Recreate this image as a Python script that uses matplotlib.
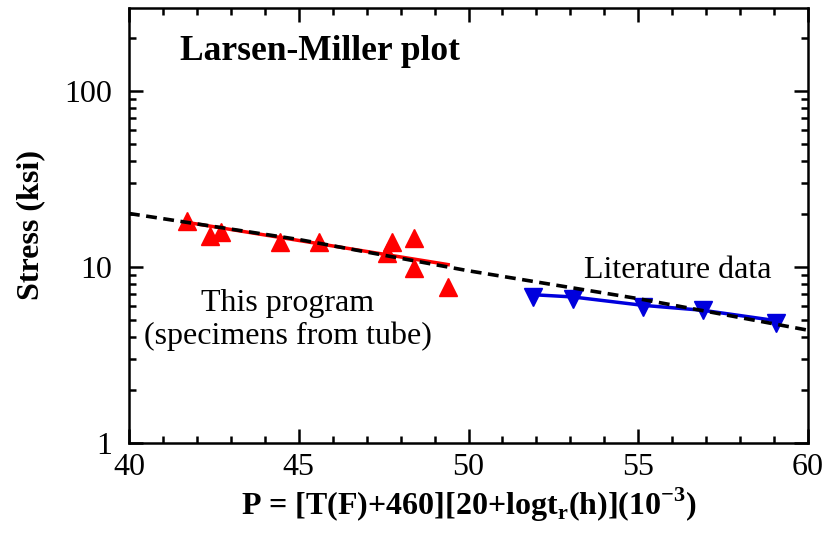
import matplotlib
matplotlib.use("Agg")
import matplotlib.pyplot as plt
from matplotlib.ticker import MultipleLocator, LogLocator, NullFormatter, FixedLocator, FixedFormatter

# This program (specimens from tube)
prog_P = [41.7, 42.4, 42.7, 44.45, 45.6, 47.6, 47.75, 48.4, 48.4, 49.4]
prog_S = [18.3, 14.9, 15.7, 13.9, 13.8, 12.0, 13.8, 14.5, 9.8, 7.65]
prog_fit_P = [41.7, 49.4]
prog_fit_S = [17.9, 10.3]

# Literature data
lit_P = [51.9, 53.07, 55.13, 56.9, 59.06]
lit_S = [6.72, 6.6, 5.9, 5.67, 4.79]
lit_fit_P = [51.9, 53.07, 55.13, 56.9, 59.06]
lit_fit_S = [6.95, 6.75, 6.05, 5.67, 4.95]

# Overall Larsen-Miller curve
lm_P = [40, 45, 50, 55, 60]
lm_S = [20.1, 14.3, 9.5, 6.6, 4.37]

plt.rcParams['font.family'] = ['Liberation Serif', 'DejaVu Serif']
plt.rcParams['mathtext.fontset'] = 'custom'
plt.rcParams['mathtext.rm'] = 'Liberation Serif'
plt.rcParams['mathtext.bf'] = 'Liberation Serif:bold'

fig = plt.figure(figsize=(8.25, 5.33), dpi=100)
ax = fig.add_axes([129/825, 1-443/533, (808-129)/825, (443-8)/533])

ax.plot(lm_P, lm_S, color='black', ls=(0, (3, 1.8)), lw=2.6, zorder=4)
ax.plot(prog_fit_P, prog_fit_S, color='#ff0000', lw=2.5, zorder=2)
ax.plot(prog_P, prog_S, ls='none', marker='^', ms=13, color='#ff0000', mec='#ff0000', zorder=3)
ax.plot(lit_fit_P, lit_fit_S, color='#0000dd', lw=2.5, zorder=2)
ax.plot(lit_P, lit_S, ls='none', marker='v', ms=13, color='#0000dd', mec='#0000dd', zorder=3)

ax.set_yscale('log')
ax.set_xlim(40, 60)
ax.set_ylim(1, 295)
ax.xaxis.set_major_locator(MultipleLocator(5))
ax.xaxis.set_minor_locator(MultipleLocator(1))
ax.yaxis.set_major_locator(FixedLocator([1, 10, 100]))
ax.yaxis.set_major_formatter(FixedFormatter(['1', '10', '100']))
ax.yaxis.set_minor_locator(LogLocator(base=10, subs=range(2, 10)))
ax.yaxis.set_minor_formatter(NullFormatter())

ax.tick_params(which='both', direction='in', top=True, right=True, width=1.8, labelsize=23)
ax.tick_params(axis='x', which='both', pad=7)
ax.tick_params(axis='y', which='both', pad=12)
ax.tick_params(which='major', length=10)
ax.tick_params(which='minor', length=5)
for s in ax.spines.values():
    s.set_linewidth(1.8)

ax.set_ylabel('Stress (ksi)', fontsize=23, fontweight='bold', labelpad=14)
ax.set_xlabel(r'P = [T(F)+460][20+logt$_{\mathbf{r}}$(h)](10$^{\mathbf{-3}}$)', fontsize=23, fontweight='bold', labelpad=3)

ax.text(180/825, 1-52/533, 'Larsen-Miller plot', transform=fig.transFigure, fontsize=25.5, fontweight='bold', ha='left', va='center')
ax.text(288/825, 1-303/533, 'This program', transform=fig.transFigure, fontsize=23, ha='center', va='center')
ax.text(288/825, 1-336/533, '(specimens from tube)', transform=fig.transFigure, fontsize=23, ha='center', va='center')
ax.text(678/825, 1-271/533, 'Literature data', transform=fig.transFigure, fontsize=23, ha='center', va='center')

fig.savefig('out.png', dpi=100)
